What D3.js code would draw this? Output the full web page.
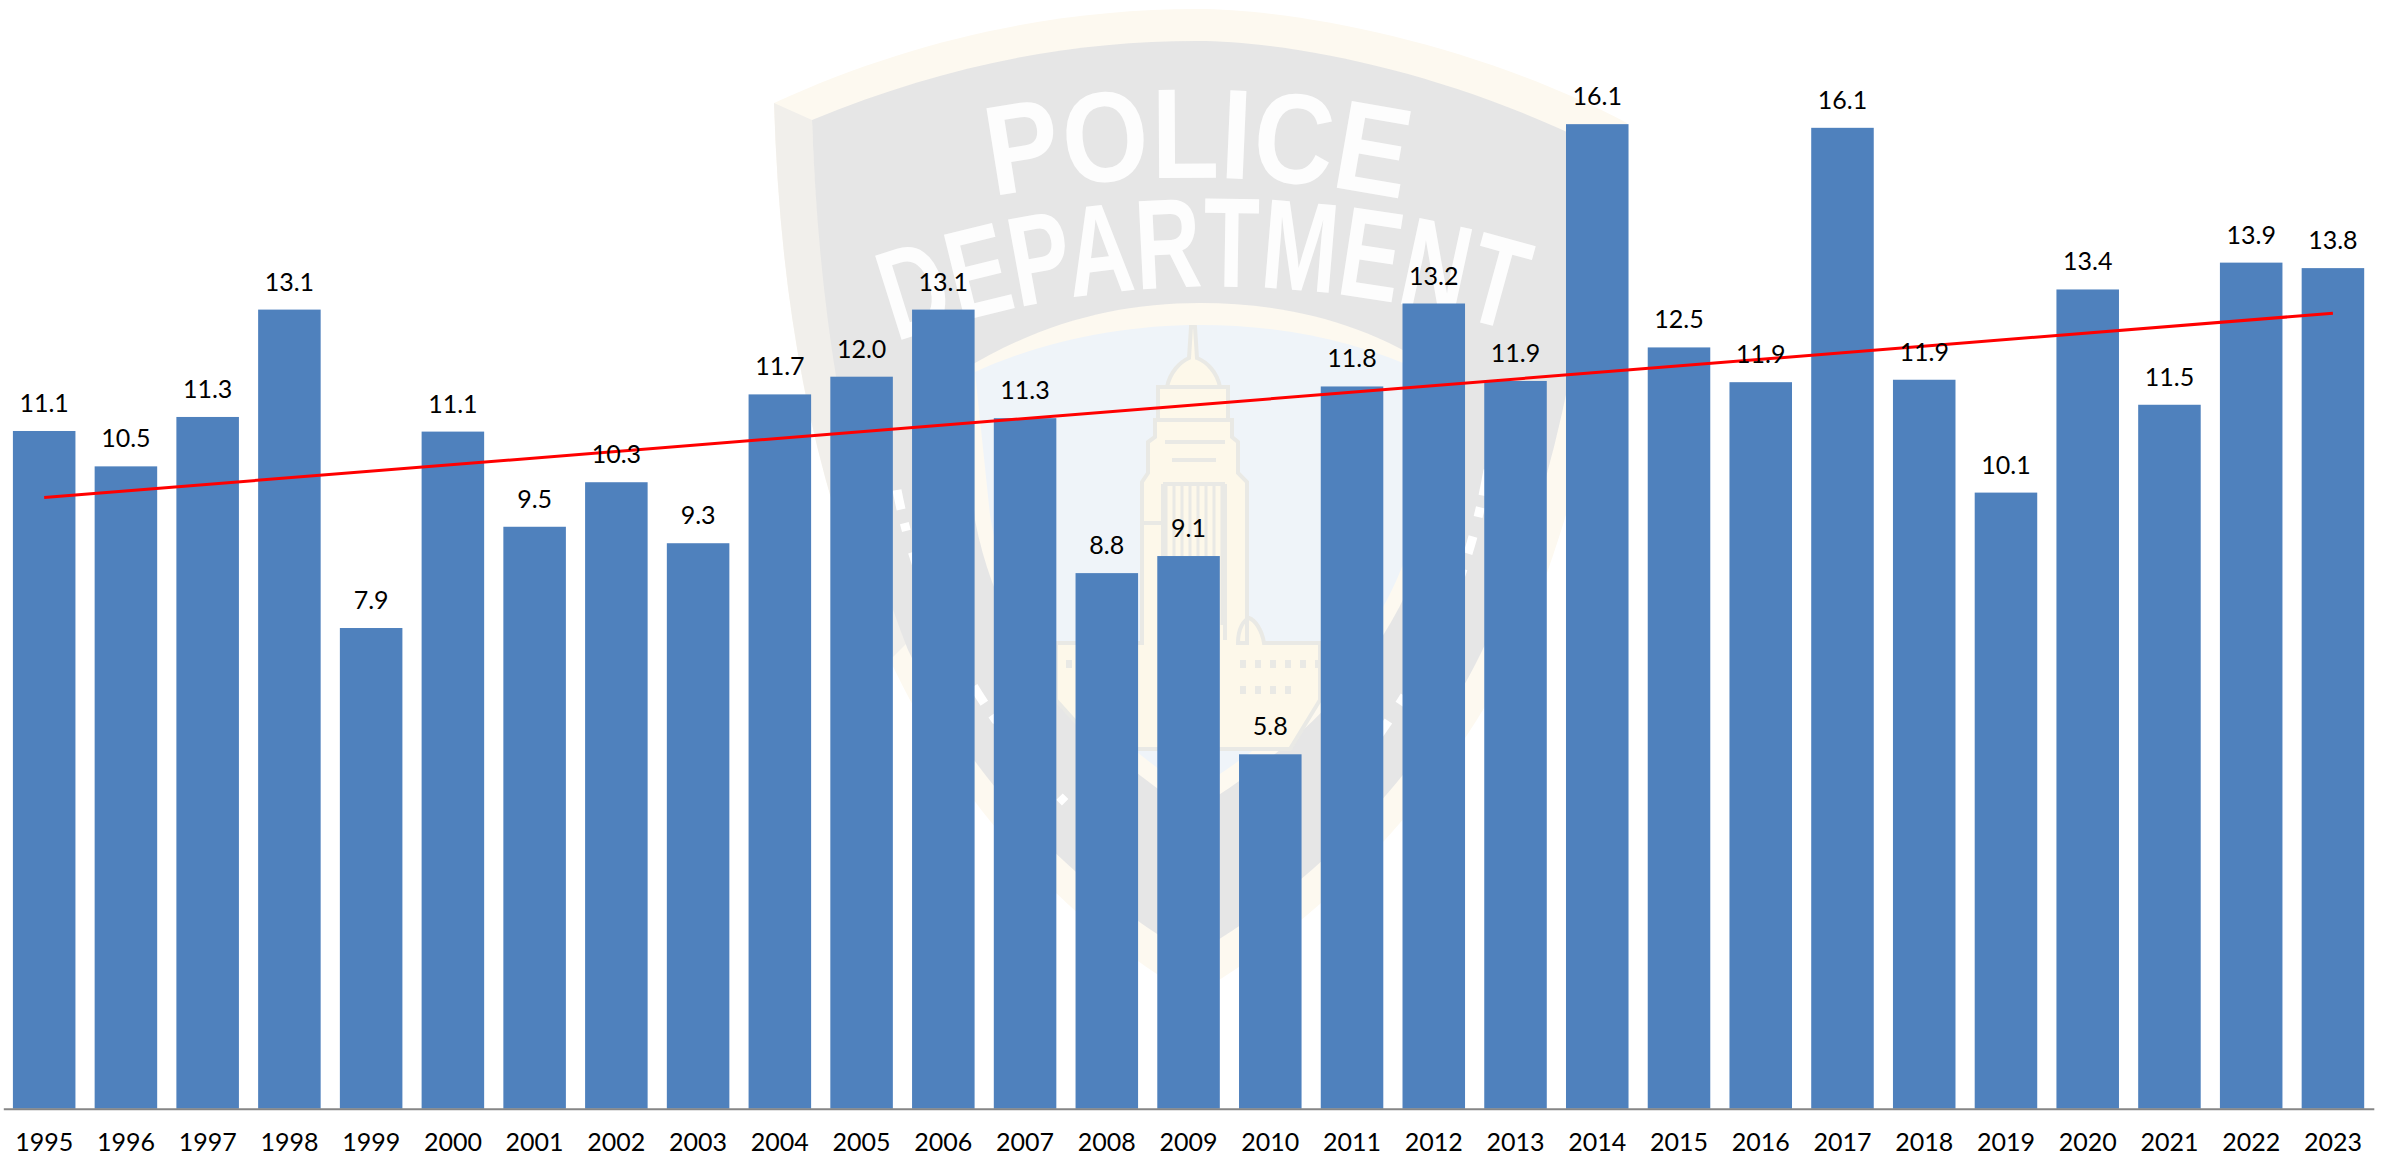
<!DOCTYPE html>
<html>
<head>
<meta charset="utf-8">
<title>Chart</title>
<script src="https://cdnjs.cloudflare.com/ajax/libs/d3/7.8.5/d3.min.js"></script>
<style>
html, body { margin: 0; padding: 0; background: #fff; }
svg { display: block; }
text { font-family: Lato, "Open Sans", sans-serif; fill: #000; }
.badge-text { font-family: "Liberation Sans Narrow", "Liberation Sans", sans-serif; font-weight: 700; fill: #fff; fill-opacity: 0.92; }
</style>
</head>
<body>
<script>
/* main JS file */
var years = [1995, 1996, 1997, 1998, 1999, 2000, 2001, 2002, 2003, 2004, 2005, 2006, 2007, 2008, 2009,
             2010, 2011, 2012, 2013, 2014, 2015, 2016, 2017, 2018, 2019, 2020, 2021, 2022, 2023];
var values = [11.11, 10.53, 11.34, 13.1, 7.88, 11.1, 9.54, 10.27, 9.27, 11.71, 12.0, 13.1, 11.32, 8.78, 9.06,
              5.81, 11.84, 13.2, 11.93, 16.14, 12.48, 11.91, 16.08, 11.95, 10.1, 13.43, 11.54, 13.87, 13.78];
var trendYears = [1995, 2023];
var trendValues = [10.02, 13.04];

var width = 2391, height = 1157;
var svg = d3.select("body").append("svg")
	.attr("width", width)
	.attr("height", height);

var x = d3.scaleBand()
	.domain(years)
	.range([3.3, 2373.8])
	.paddingInner(0.235)
	.paddingOuter(0.1175);

var y = d3.scaleLinear()
	.domain([0, 18])
	.range([1108.7, 10.7]);

drawBadge(svg.append("g").attr("class", "badge"));

// bars
svg.selectAll("rect.bar")
	.data(years)
	.enter()
	.append("rect")
	.attr("class", "bar")
	.attr("fill", "#4f81bd")
	.attr("x", function(d){ return x(d); })
	.attr("width", x.bandwidth())
	.attr("y", function(d, i){ return y(values[i]); })
	.attr("height", function(d, i){ return y(0) - y(values[i]); });

// axis
var xAxis = d3.axisBottom(x).tickSize(0).tickPadding(24.5);
var axisG = svg.append("g")
	.attr("transform", "translate(0," + y(0) + ")")
	.call(xAxis);
axisG.select(".domain").attr("stroke", "#868686").attr("stroke-width", 2);
axisG.selectAll("text").style("font-size", "25px").style("font-family", "Lato").attr("fill", "#000");

// trend line
var line = d3.line()
	.x(function(d){ return x(d) + x.bandwidth() / 2; })
	.y(function(d, i){ return y(trendValues[i]); });
svg.append("path")
	.attr("d", line(trendYears))
	.attr("fill", "none")
	.attr("stroke", "#ff0000")
	.attr("stroke-width", 3);

// value labels
svg.selectAll("text.value")
	.data(years)
	.enter()
	.append("text")
	.attr("class", "value")
	.attr("text-anchor", "middle")
	.style("font-size", "25px")
	.attr("x", function(d){ return x(d) + x.bandwidth() / 2; })
	.attr("y", function(d, i){ return y(values[i]) - 19; })
	.text(function(d, i){ return values[i].toFixed(1); });

// faded badge behind the chart
function drawBadge(g) {
	var defs = svg.append("defs");
	defs.append("path").attr("id", "arc-police").attr("d", "M993,197 Q1198,157 1403,200");
	defs.append("path").attr("id", "arc-dept").attr("d", "M896,342 Q1205,234 1530,337");

	var cream = "#fdf9f0", gray = "#e6e6e6", field = "#eff4f9", bld = "#fdf8ea", bldLine = "#e9e9e5";

	// outer rim
	g.append("path").attr("fill", cream)
		.attr("d", "M774,103 C915,38 1060,9 1197,9 C1300,9 1480,45 1627,123 C1620,300 1585,520 1500,680 C1430,810 1310,930 1192,996 C1070,925 960,810 890,660 C810,480 780,300 774,103 Z");
	// shaded left side
	g.append("path").attr("fill", "#f1efeb")
		.attr("d", "M774,103 L812,120 C818,300 850,480 910,640 L890,660 C810,480 780,300 774,103 Z");
	// gray shield
	g.append("path").attr("fill", gray)
		.attr("d", "M812,120 C945,65 1070,41 1197,41 C1290,41 1450,72 1600,148 C1590,300 1555,510 1475,665 C1410,790 1300,895 1192,955 C1085,895 975,790 908,650 C845,490 818,300 812,120 Z");
	// gold arch over the field
	g.append("path").attr("fill", cream)
		.attr("d", "M960,372 C1040,322 1120,303 1200,303 C1285,303 1365,322 1440,372 L1432,520 C1400,650 1310,740 1192,812 C1080,740 1000,650 975,520 Z");
	// blue field
	g.append("path").attr("fill", field)
		.attr("d", "M975,372 C1045,340 1125,325 1200,325 C1280,325 1355,340 1424,372 L1418,515 C1390,640 1300,725 1192,792 C1090,725 1010,640 990,515 Z");

	// capitol
	g.append("path").attr("fill", bld).attr("stroke", bldLine).attr("stroke-width", 4)
		.attr("d", "M1056,643 H1142 V482 L1148,473 V442 L1155,437 V420 H1158 V387 H1167 C1170,372 1180,362 1189,358 L1191,327 H1195 L1197,358 C1207,362 1217,372 1220,387 H1228 V420 H1232 V437 L1238,442 V473 L1247,482 V643 H1238 C1238,628 1244,620 1249,618 C1255,620 1262,630 1264,643 H1320 V700 L1290,749 H1100 L1056,700 Z");
	var towerLines = d3.range(1166, 1226, 8);
	g.selectAll("line.col").data(towerLines).enter().append("line")
		.attr("class", "col")
		.attr("x1", function(d){ return d; }).attr("x2", function(d){ return d; })
		.attr("y1", 484).attr("y2", 625)
		.attr("stroke", bldLine).attr("stroke-width", 3);
	g.append("path").attr("fill", "none").attr("stroke", bldLine).attr("stroke-width", 4)
		.attr("d", "M1160,387 H1226 M1158,420 H1230 M1163,484 H1225 M1143,523 H1163 M1163,484 V640 M1225,484 V640 M1165,442 H1225 M1172,460 H1216");
	g.append("path").attr("fill", "none").attr("stroke", bldLine).attr("stroke-width", 8)
		.attr("stroke-dasharray", "6 9")
		.attr("d", "M1240,664 H1320 M1240,690 H1300 M1066,664 H1130");

	// worn lettering around the ring
	g.append("path").attr("fill", "none").attr("stroke", "#fff").attr("stroke-width", 9)
		.attr("stroke-dasharray", "20 14 8 22 30 12")
		.attr("d", "M897,490 C920,610 980,720 1075,812");
	g.append("path").attr("fill", "none").attr("stroke", "#fff").attr("stroke-width", 9)
		.attr("stroke-dasharray", "26 12 10 20 18 16")
		.attr("d", "M1488,470 C1465,600 1410,710 1325,800");

	g.append("text").attr("class", "badge-text").style("font-size", "128px")
		.append("textPath").attr("href", "#arc-police")
		.attr("textLength", 412).attr("lengthAdjust", "spacingAndGlyphs")
		.text("POLICE");
	g.append("text").attr("class", "badge-text").style("font-size", "128px")
		.append("textPath").attr("href", "#arc-dept")
		.attr("textLength", 628).attr("lengthAdjust", "spacingAndGlyphs")
		.text("DEPARTMENT");
}
</script>
</body>
</html>
